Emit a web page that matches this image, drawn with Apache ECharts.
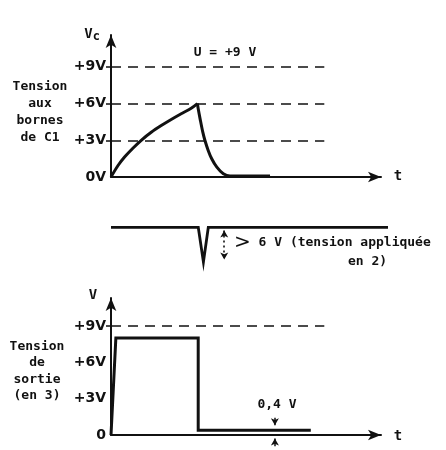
<!DOCTYPE html>
<html>
<head>
<meta charset="utf-8">
<script src="https://cdn.jsdelivr.net/npm/echarts@6/dist/echarts.min.js"></script>
<style>
  html, body { margin: 0; padding: 0; background: #fff; }
  #chart { width: 446px; height: 450px; }
</style>
</head>
<body>
<div id="chart"></div>
<script>
// Voltage across C1 (V) against time (arbitrary units): charge, then discharge
const chargeT = [0, 2.6, 5.1, 8.1, 11.2, 14.9, 18.6, 22.3, 26.0, 29.7, 32];
const chargeV = [0, 0.94, 1.65, 2.35, 3.0, 3.65, 4.2, 4.7, 5.17, 5.62, 6.0];
const dischargeT = [32, 32.3, 33.0, 34.0, 34.8, 36.0, 37.3, 39.2, 41.6, 44.1, 58.9];
const dischargeV = [6.0, 5.57, 4.75, 3.66, 2.98, 2.17, 1.49, 0.80, 0.26, 0.08, 0.08];

// Trigger pulse applied at point 2 (negative-going spike, depth > 6 V)
const trigT = [0, 32.3, 34.2, 36.0, 102.5];
const trigV = [0, 0, -7, 0, 0];
const trigArrowT = 41.9;

// Output voltage at point 3
const outT = [0, 1.8, 32.3, 32.3, 74];
const outV = [0, 8, 8, 0.4, 0.4];
const lowLevel = 0.4;
const lowArrowT = 60.7;

// Reference levels and axis labels
const vcGuides = [3, 6, 9];
const outGuides = [9];
const guideEndT = 79;
const vcTickValues = [0, 3, 6, 9];
const vcTickLabels = ['0V', '+3V', '+6V', '+9V'];
const outTickValues = [0, 3, 6, 9];
const outTickLabels = ['0', '+3V', '+6V', '+9V'];

const ink = '#111';
const labelFont = 'DejaVu Sans';
const textFont = 'DejaVu Sans Mono';
const textStyle = 'bold 13px ' + textFont;

const pairs = (xs, ys) => xs.map((x, i) => [x, ys[i]]);

function guideLines(levels) {
  return {
    silent: true,
    symbol: 'none',
    label: { show: false },
    lineStyle: { color: ink, width: 1.6, type: [10, 7] },
    data: levels.map(v => [{ coord: [0, v] }, { coord: [guideEndT, v] }])
  };
}

const arrowAxis = {
  show: true,
  onZero: false,
  symbol: ['none', 'arrow'],
  symbolSize: [8, 13],
  lineStyle: { color: ink, width: 2 }
};

function xAxisFor(grid, max, visible) {
  return {
    gridIndex: grid, type: 'value', min: 0, max: max, show: visible,
    axisLine: visible ? arrowAxis : { show: false },
    axisTick: { show: false }, axisLabel: { show: false }, splitLine: { show: false }
  };
}

function yAxisFor(grid, max, tickVals, labelVals, labels) {
  return {
    gridIndex: grid, type: 'value', min: 0, max: max, interval: 3,
    axisLine: arrowAxis,
    axisTick: { show: true, length: 5, customValues: tickVals, lineStyle: { color: ink, width: 1.5 } },
    axisLabel: {
      customValues: labelVals,
      margin: 5,
      color: ink, fontFamily: labelFont, fontSize: 14, fontWeight: 'bold',
      formatter: v => labels[labelVals.indexOf(v)] || ''
    },
    splitLine: { show: false }
  };
}

const lineBase = { type: 'line', symbol: 'none', clip: false, silent: true };
const smallArrow = { symbol: 'arrow', symbolSize: [6, 7] };

const chart = echarts.init(document.getElementById('chart'), null, { renderer: 'canvas' });
chart.setOption({
  animation: false,
  backgroundColor: '#fff',
  grid: [
    { left: 111, top: 35, width: 270, height: 142 },
    { left: 111, top: 225, width: 277, height: 39.4 },
    { left: 111, top: 298, width: 270, height: 137 },
    // same scale as the output plot, extended below zero for the 0,4 V marker
    { left: 111, top: 298, width: 270, height: 151.25 }
  ],
  xAxis: [
    xAxisFor(0, 100, true),
    xAxisFor(1, 102.5, false),
    xAxisFor(2, 100, true),
    xAxisFor(3, 100, false)
  ],
  yAxis: [
    yAxisFor(0, 11.6, vcGuides, vcTickValues, vcTickLabels),
    { gridIndex: 1, type: 'value', min: -7.5, max: 0.5, show: false },
    yAxisFor(2, 11.3, outGuides, outTickValues, outTickLabels),
    { gridIndex: 3, type: 'value', min: -1.2, max: 11.3, show: false }
  ],
  series: [
    Object.assign({}, lineBase, {
      name: 'charge', xAxisIndex: 0, yAxisIndex: 0, smooth: 0.3,
      data: pairs(chargeT, chargeV),
      lineStyle: { color: ink, width: 3 },
      markLine: guideLines(vcGuides)
    }),
    Object.assign({}, lineBase, {
      name: 'discharge', xAxisIndex: 0, yAxisIndex: 0, smooth: 0.3,
      data: pairs(dischargeT, dischargeV),
      lineStyle: { color: ink, width: 3 }
    }),
    Object.assign({}, lineBase, {
      name: 'trigger', xAxisIndex: 1, yAxisIndex: 1,
      data: pairs(trigT, trigV),
      lineStyle: { color: ink, width: 2.8, join: 'miter' },
      markLine: {
        silent: true,
        symbol: ['arrow', 'arrow'],
        symbolSize: [6, 7],
        label: { show: false },
        lineStyle: { color: ink, width: 1.6, type: [2, 3] },
        data: [[{ coord: [trigArrowT, -0.6] }, { coord: [trigArrowT, -6.5] }]]
      }
    }),
    Object.assign({}, lineBase, {
      name: 'output', xAxisIndex: 2, yAxisIndex: 2,
      data: pairs(outT, outV),
      lineStyle: { color: ink, width: 3, join: 'miter' },
      markLine: guideLines(outGuides)
    }),
    Object.assign({}, lineBase, {
      name: 'low level marker', xAxisIndex: 3, yAxisIndex: 3,
      data: [[lowArrowT, lowLevel]],
      lineStyle: { width: 0 },
      markLine: {
        silent: true,
        label: { show: false },
        lineStyle: { color: ink, width: 1.5, type: 'solid' },
        data: [
          [Object.assign({ coord: [lowArrowT, lowLevel + 1.0] }, { symbol: 'none' }),
           Object.assign({ coord: [lowArrowT, lowLevel + 0.38] }, smallArrow)],
          [Object.assign({ coord: [lowArrowT, -0.95] }, { symbol: 'none' }),
           Object.assign({ coord: [lowArrowT, -0.32] }, smallArrow)]
        ]
      }
    })
  ],
  graphic: [
    { type: 'text', x: 100, y: 34, style: {
        text: '{v|V}{c|c}', align: 'right', verticalAlign: 'middle',
        rich: {
          v: { fontFamily: textFont, fontWeight: 'bold', fontSize: 14, fill: ink },
          c: { fontFamily: textFont, fontWeight: 'bold', fontSize: 12, fill: ink, padding: [5, 0, 0, 0] }
        } } },
    { type: 'text', x: 225, y: 53, style: {
        text: 'U = +9 V', align: 'center', verticalAlign: 'middle',
        font: textStyle, fill: ink } },
    { type: 'text', x: 40, y: 112.5, style: {
        text: 'Tension\naux\nbornes\nde C1', align: 'center', verticalAlign: 'middle',
        font: textStyle, lineHeight: 17, fill: ink } },
    { type: 'text', x: 398, y: 176, style: {
        text: 't', align: 'center', verticalAlign: 'middle',
        font: 'bold 14px ' + textFont, fill: ink } },
    { type: 'text', x: 234, y: 243, style: {
        text: '{g|>} 6 V (tension appliquée', align: 'left', verticalAlign: 'middle',
        rich: {
          g: { fontFamily: labelFont, fontSize: 20, fill: ink }
        },
        font: textStyle, fill: ink } },
    { type: 'text', x: 348, y: 262, style: {
        text: 'en 2)', align: 'left', verticalAlign: 'middle',
        font: textStyle, fill: ink } },
    { type: 'text', x: 93, y: 295, style: {
        text: 'V', align: 'center', verticalAlign: 'middle',
        font: 'bold 14px ' + textFont, fill: ink } },
    { type: 'text', x: 37, y: 371, style: {
        text: 'Tension\nde\nsortie\n(en 3)', align: 'center', verticalAlign: 'middle',
        font: textStyle, lineHeight: 16.5, fill: ink } },
    { type: 'text', x: 398, y: 436, style: {
        text: 't', align: 'center', verticalAlign: 'middle',
        font: 'bold 14px ' + textFont, fill: ink } },
    { type: 'text', x: 277, y: 405, style: {
        text: '0,4 V', align: 'center', verticalAlign: 'middle',
        font: textStyle, fill: ink } }
  ]
});
</script>
</body>
</html>
